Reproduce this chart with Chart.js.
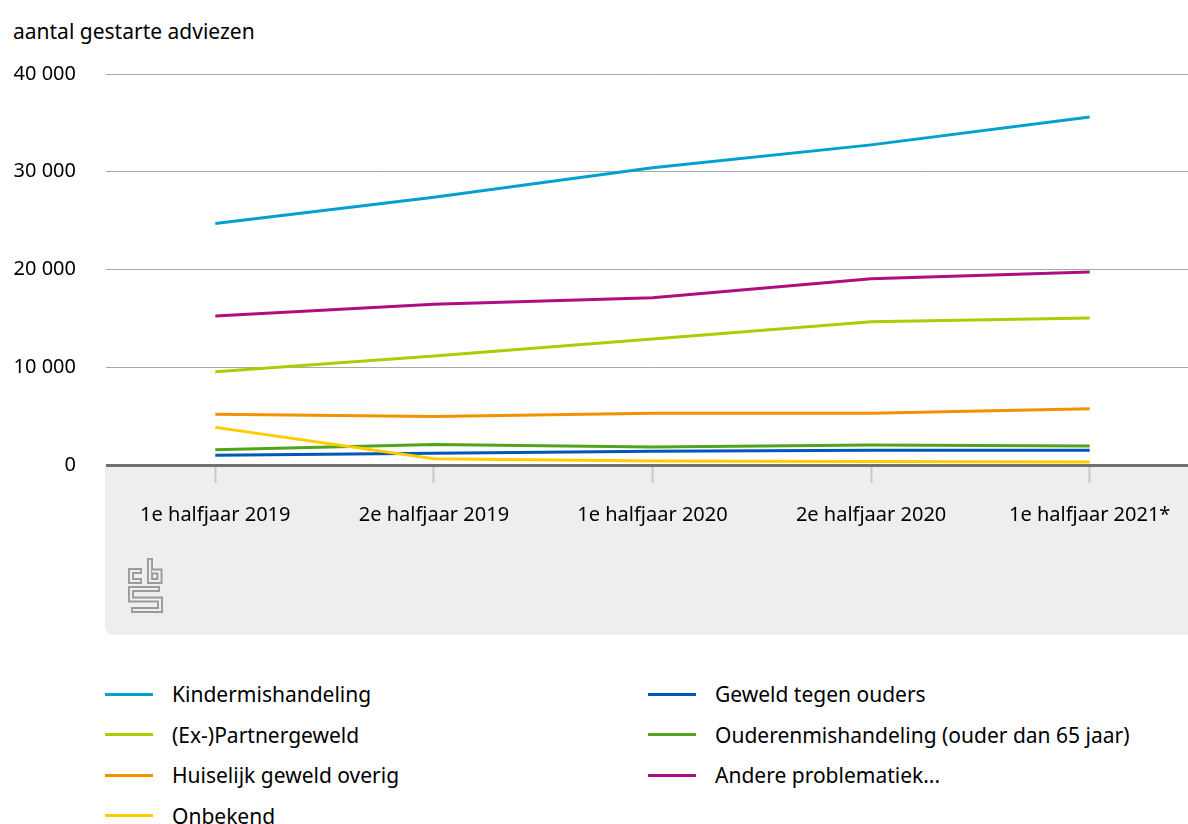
<!DOCTYPE html>
<html lang="nl">
<head>
<meta charset="utf-8">
<script src="https://cdn.jsdelivr.net/npm/chart.js@4.4.1/dist/chart.umd.min.js"></script>
<style>
  html, body { margin: 0; padding: 0; background: #fff; overflow: hidden; }
  body { width: 1188px; height: 824px; position: relative; font-family: "Noto Sans", sans-serif; color: #000; }
  #yTitle { position: absolute; left: 13px; top: 16px; font-size: 21px; line-height: 30px; }
  #wrap { position: absolute; left: 0; top: 0; width: 1200px; height: 640px; }
  #legend {
    position: absolute; left: 105px; top: 674px;
    display: grid; grid-auto-flow: column; grid-template-rows: repeat(4, 40.5px);
    grid-template-columns: 543px 520px; font-size: 21px;
  }
  .item { display: flex; align-items: center; white-space: nowrap; }
  .swatch { width: 48px; height: 3px; margin-right: 19px; flex: none; }
</style>
</head>
<body>
<div id="yTitle">aantal gestarte adviezen</div>
<div id="wrap"><canvas id="chart"></canvas></div>
<div id="legend"></div>

<script>
// categories (halfjaren)
const categories = ["1e halfjaar 2019", "2e halfjaar 2019", "1e halfjaar 2020", "2e halfjaar 2020", "1e halfjaar 2021*"];

// series values, aantal gestarte adviezen
const kindermishandeling = [24700, 27400, 30400, 32750, 35600];
const exPartnergeweld = [9550, 11150, 12900, 14650, 15050];
const huiselijkGeweldOverig = [5200, 4950, 5300, 5300, 5750];
const onbekend = [3850, 650, 400, 350, 300];
const geweldTegenOuders = [1000, 1200, 1400, 1500, 1500];
const ouderenmishandeling = [1550, 2100, 1850, 2050, 1950];
const andereProblematiek = [15250, 16450, 17100, 19050, 19750];

const seriesNames = [
    "Kindermishandeling",
    "(Ex-)Partnergeweld",
    "Huiselijk geweld overig",
    "Onbekend",
    "Geweld tegen ouders",
    "Ouderenmishandeling (ouder dan 65 jaar)",
    "Andere problematiek...",
];
const seriesValues = [
    kindermishandeling, exPartnergeweld, huiselijkGeweldOverig, onbekend,
    geweldTegenOuders, ouderenmishandeling, andereProblematiek,
];
const seriesColors = ["#00a1cd", "#afcb05", "#f39200", "#ffcc00", "#0058b8", "#53a31d", "#af0e80"];

const FONT = "'Noto Sans', sans-serif";
const PANEL_COLOR = "#eeeeee";

function formatThousands(v) {
    return String(v).replace(/\B(?=(\d{3})+(?!\d))/g, " ");
}

// grey band under the x axis plus the cbs logo
const panelPlugin = {
    id: "panel",
    beforeDraw(chart) {
        const { ctx, chartArea } = chart;
        const top = chartArea.bottom;
        const left = chartArea.left - 1;
        const bottom = top + 170;
        const right = chart.width;
        const r = 10;
        ctx.save();
        ctx.fillStyle = PANEL_COLOR;
        ctx.beginPath();
        ctx.moveTo(left, top);
        ctx.lineTo(right, top);
        ctx.lineTo(right, bottom);
        ctx.lineTo(left + r, bottom);
        ctx.quadraticCurveTo(left, bottom, left, bottom - r);
        ctx.closePath();
        ctx.fill();

        // logo: thick grey stroke, then thin panel-coloured stroke inside
        const ox = left + 23;
        const oy = top + 102;
        const shapes = [
            [[14, 4], [3, 4], [3, 14], [14, 14]],
            [[22, -9], [22, 14], [31.5, 14], [31.5, 4.5], [22, 4.5]],
            [[32, 22], [3, 22], [3, 32.5], [32, 32.5], [32, 43], [3, 43]],
        ];
        const trace = (pts) => {
            ctx.beginPath();
            pts.forEach(([x, y], i) => (i ? ctx.lineTo(ox + x, oy + y) : ctx.moveTo(ox + x, oy + y)));
            ctx.stroke();
        };
        ctx.lineJoin = "miter";
        ctx.lineCap = "butt";
        shapes.forEach((pts) => {
            ctx.strokeStyle = "#9a9a9a";
            ctx.lineWidth = 6;
            trace(pts);
        });
        shapes.forEach((pts) => {
            const inner = pts.map((p) => p.slice());
            // pull the ends in so the outlines look closed
            const shrink = (a, b) => {
                const dx = Math.sign(b[0] - a[0]) * 1.8;
                const dy = Math.sign(b[1] - a[1]) * 1.8;
                a[0] += dx; a[1] += dy;
            };
            shrink(inner[0], inner[1]);
            shrink(inner[inner.length - 1], inner[inner.length - 2]);
            ctx.strokeStyle = PANEL_COLOR;
            ctx.lineWidth = 2.2;
            trace(inner);
        });
        ctx.restore();
    },
};

const datasets = seriesNames.map((name, i) => ({
    label: name,
    data: seriesValues[i],
    borderColor: seriesColors[i],
    backgroundColor: seriesColors[i],
    borderWidth: 3,
    pointRadius: 0,
    pointHoverRadius: 0,
    tension: 0,
    fill: false,
}));

const chart = new Chart(document.getElementById("chart"), {
    type: "line",
    data: { labels: categories, datasets },
    plugins: [panelPlugin],
    options: {
        responsive: true,
        maintainAspectRatio: false,
        animation: false,
        layout: { padding: { top: 74, right: 1, bottom: 0, left: 0 } },
        plugins: {
            legend: { display: false },
            tooltip: { enabled: false },
        },
        scales: {
            x: {
                offset: true,
                border: { display: false },
                grid: {
                    offset: false,
                    drawOnChartArea: false,
                    drawTicks: true,
                    tickLength: 18,
                    tickColor: "#c8c8c8",
                    tickWidth: 2,
                },
                ticks: {
                    color: "#000",
                    font: { family: FONT, size: 20 },
                    padding: 20,
                    maxRotation: 0,
                    autoSkip: false,
                },
                afterFit(scale) {
                    scale.height = 175;
                },
            },
            y: {
                min: 0,
                max: 40000,
                border: { display: false },
                grid: {
                    drawTicks: false,
                    color: (c) => (c.tick && c.tick.value === 0 ? "#707070" : "#a8a8a8"),
                    lineWidth: (c) => (c.tick && c.tick.value === 0 ? 3 : 1),
                },
                ticks: {
                    stepSize: 10000,
                    padding: 30,
                    color: "#000",
                    font: { family: FONT, size: 20 },
                    callback: (v) => formatThousands(v),
                },
                afterFit(scale) {
                    scale.width = 106;
                },
            },
        },
    },
});

// html legend in two columns, built from the datasets
const legendEl = document.getElementById("legend");
chart.data.datasets.forEach((ds) => {
    const item = document.createElement("div");
    item.className = "item";
    const sw = document.createElement("span");
    sw.className = "swatch";
    sw.style.background = ds.borderColor;
    const txt = document.createElement("span");
    txt.textContent = ds.label;
    item.appendChild(sw);
    item.appendChild(txt);
    legendEl.appendChild(item);
});
</script>
</body>
</html>
